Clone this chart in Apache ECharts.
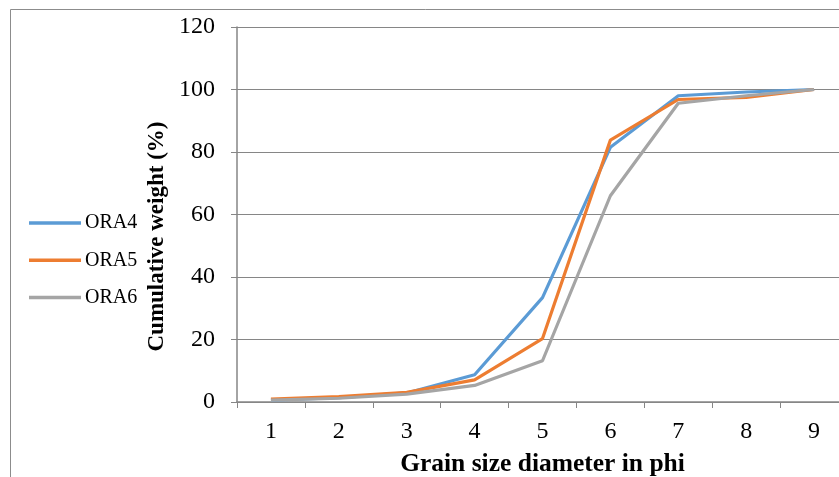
<!DOCTYPE html>
<html>
<head>
<meta charset="utf-8">
<script src="https://cdn.jsdelivr.net/npm/echarts@6/dist/echarts.min.js"></script>
<style>
html,body{margin:0;padding:0;background:#fff;}
#chart{width:839px;height:477px;}
</style>
</head>
<body>
<div id="chart"></div>
<script>
const categories = ['1','2','3','4','5','6','7','8','9'];
const seriesNames = ['ORA4','ORA5','ORA6'];
const ora4 = [0.6, 1.4, 2.9, 8.7, 33.4, 81.5, 98.0, 99.2, 100];
const ora5 = [0.9, 1.7, 3.1, 7.1, 20.3, 83.8, 96.8, 97.5, 100];
const ora6 = [0.6, 1.2, 2.5, 5.3, 13.2, 66.0, 95.6, 98.0, 100];
const yTicks = [0, 20, 40, 60, 80, 100, 120];
const colors = ['#5B9BD5', '#ED7D31', '#A5A5A5'];

const serif = '"Liberation Serif", "Times New Roman", serif';
const chart = echarts.init(document.getElementById('chart'));
const values = [ora4, ora5, ora6];

chart.setOption({
  animation: false,
  backgroundColor: '#fff',
  color: colors,
  graphic: [{
    type: 'rect',
    shape: { x: 10.5, y: 9.5, width: 1000, height: 600 },
    style: { fill: 'none', stroke: '#8c8c8c', lineWidth: 1 },
    silent: true
  }],
  grid: { left: 237, top: 27, width: 611, bottom: 75, containLabel: false, outerBoundsMode: 'none' },
  legend: {
    orient: 'vertical',
    left: 29,
    top: 213,
    padding: 0,
    itemWidth: 52,
    itemHeight: 14,
    itemGap: 17.3,
    data: seriesNames.map(function (n) { return { name: n, icon: 'path://M0,0 L52,0 L52,3.5 L0,3.5 Z' }; }),
    textStyle: { fontFamily: serif, fontSize: 20, color: '#000', padding: [0, 0, 0, -1] }
  },
  xAxis: {
    type: 'category',
    data: categories,
    boundaryGap: true,
    name: 'Grain size diameter in phi',
    nameLocation: 'middle',
    nameGap: 49,
    nameTextStyle: { fontFamily: serif, fontSize: 25.5, fontWeight: 'bold', color: '#000' },
    axisLine: { lineStyle: { color: '#868686', width: 1.5 } },
    axisTick: { show: true, length: 6, alignWithLabel: false, lineStyle: { color: '#868686' } },
    axisLabel: { fontFamily: serif, fontSize: 24, color: '#000', margin: 18 },
    splitLine: { show: false }
  },
  yAxis: {
    type: 'value',
    min: yTicks[0],
    max: yTicks[yTicks.length - 1],
    interval: 20,
    name: 'Cumulative weight (%)',
    nameLocation: 'middle',
    nameGap: 62,
    nameTextStyle: { fontFamily: serif, fontSize: 23, fontWeight: 'bold', color: '#000', padding: [0, 44, 0, 0] },
    axisLine: { show: true, lineStyle: { color: '#868686', width: 1.5 } },
    axisTick: { show: true, length: 6, lineStyle: { color: '#868686' } },
    axisLabel: { fontFamily: serif, fontSize: 24, color: '#000', margin: 22 },
    splitLine: { show: true, lineStyle: { color: '#868686', width: 1.2 } }
  },
  series: seriesNames.map(function (n, i) {
    return {
      name: n,
      type: 'line',
      data: values[i],
      showSymbol: false,
      symbol: 'none',
      lineStyle: { width: 3.2, color: colors[i] },
      itemStyle: { color: colors[i] }
    };
  })
});
</script>
</body>
</html>
